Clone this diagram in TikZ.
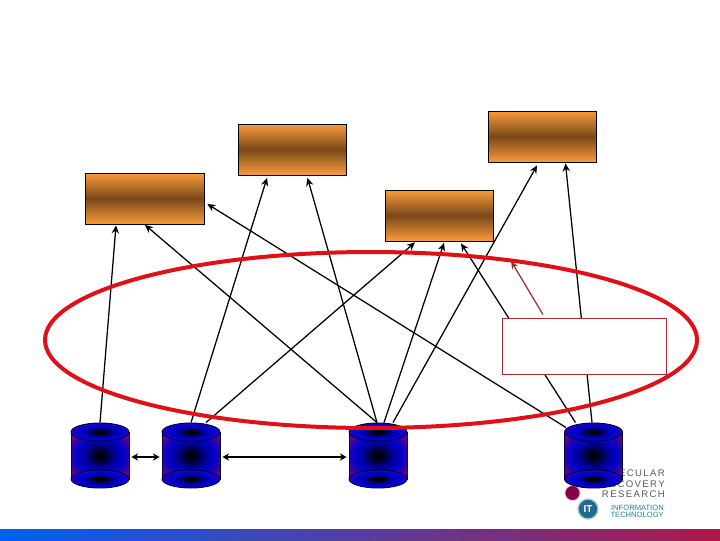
\documentclass[tikz,border=0pt]{standalone}
\usepackage{fontspec}
\setmainfont{Liberation Sans}
\newfontfamily\logofont[LetterSpace=14]{Liberation Sans}
\usetikzlibrary{calc,shapes.geometric,arrows.meta}
\pgfdeclareradialshading{dbbodyS}{\pgfpoint{0bp}{0bp}}{
  color(0bp)=(black); color(4bp)=(black!90!blue); color(12bp)=(blue!55!black);
  color(20bp)=(blue!80!black); color(25bp)=(blue!60!violet!85!black); color(33bp)=(violet!65!magenta!75!black); color(50bp)=(violet!65!magenta!75!black)}
\pgfdeclareradialshading{dbcapS}{\pgfpoint{0bp}{0bp}}{
  color(0bp)=(black); color(4bp)=(black); color(12bp)=(blue!65!black);
  color(20bp)=(blue!85!black); color(25bp)=(blue!60!violet!90!black); color(33bp)=(violet!75!magenta!85!black); color(50bp)=(violet!75!magenta!85!black)}
\definecolor{boxEdge}{RGB}{250,155,60}
\definecolor{boxMid}{RGB}{120,72,24}
\definecolor{ringRed}{RGB}{224,16,24}
\definecolor{noteRed}{RGB}{160,44,48}
\definecolor{logoBlue}{RGB}{40,125,165}
\tikzset{
  server/.style ={rectangle, draw=black, line width=0.6pt, inner sep=0pt, minimum width=81pt, minimum height=38.25pt,
                  top color=boxEdge, bottom color=boxEdge, middle color=boxMid},
  dbbody/.style ={rectangle, draw=black!80!blue, line width=0.7pt, inner sep=0pt, minimum width=43.5pt, minimum height=35.25pt, shading=dbbodyS},
  dbcap/.style  ={ellipse, draw=black!80!blue, line width=0.7pt, inner sep=0pt, minimum width=43.5pt, minimum height=13.5pt, shading=dbcapS},
  ring/.style   ={ellipse, draw=ringRed, line width=3pt, inner sep=0pt, minimum width=489pt, minimum height=132pt},
  note/.style   ={rectangle, draw=noteRed, line width=0.7pt, fill=white, inner sep=0pt, minimum width=123pt, minimum height=42pt},
  link/.style   ={-{Stealth[length=6pt,width=5.5pt]}, black, line width=0.95pt},
  peer/.style   ={{Stealth[length=5pt,width=5.5pt]}-{Stealth[length=5pt,width=5.5pt]}, black, line width=1pt},
  logotxt/.style={left, inner sep=0pt, black!65, font=\logofont\fontsize{7.2}{8}\selectfont},
  ittxt/.style  ={left, inner sep=0pt, logoBlue, font=\fontsize{5.7}{6}\selectfont},
}
\begin{document}
\begin{tikzpicture}[x=0.75pt,y=-0.75pt]
  \useasboundingbox (0,0) rectangle (720,540);
  \shade[left color=blue!60!cyan!95!black, middle color=violet!65!blue!80, right color=purple!85!black!90] (0,529) rectangle (720,540);
  % servers
  \node[server, minimum width=89.25pt] (boxA) at (144.5,198.5) {};
  \node[server] (boxB) at (292,149.5) {};
  \node[server] (boxC) at (439,215.5) {};
  \node[server] (boxD) at (542,136.5) {};
  % logo
  \node[logotxt] (logoA) at (665,473.5) {ECULAR};
  \node[logotxt] (logoB) at (665,484) {SCOVERY};
  \node[logotxt] (logoC) at (665,494.5) {RESEARCH};
  \node[ittxt] (logoD) at (664,507.5) {INFORMATION};
  \node[ittxt] (logoE) at (664,515) {TECHNOLOGY};
  \node[circle, draw=black!15, line width=0.8pt, fill=violet!70!red!80!black, minimum size=11.5pt, inner sep=0pt] (logoF) at (572.5,493) {};
  \node[circle, draw=logoBlue!40, line width=1pt, fill=logoBlue!85!black, minimum size=15pt, inner sep=0pt, text=white, font=\bfseries\fontsize{7.5}{8}\selectfont] (logoG) at (588,509) {IT};
  % databases
  \foreach \n/\x in {dbA/100,dbB/191,dbC/378,dbD/593.5}{
    \node[dbbody] (\n) at (\x,455.5) {};
    \node[dbcap] (\n-top) at (\x,432) {};
    \node[dbcap] (\n-bot) at (\x,479) {};
  }
  \draw[peer] ($(dbA.east)+(2,1.5)$) -- ($(dbB.west)+(-2,1.5)$);
  \draw[peer] ($(dbB.east)+(2,1.5)$) -- ($(dbC.west)+(-2,1.5)$);
  % links
  \draw[link] (dbA-top.north) -- ($(boxA.south)+(-28.5,1)$);
  \draw[link] (dbB-top.north) -- ($(boxB.south)+(-25,2.5)$);
  \draw[link] ($(dbB-top.north)+(15,0)$) -- ($(boxC.south)+(-24,1)$);
  \draw[link] ($(dbC-top.north)+(-1,0)$) -- ($(boxA.south)+(0.5,0.5)$);
  \draw[link] ($(dbC-top.north)+(-1,0)$) -- ($(boxB.south)+(15.5,2.5)$);
  \draw[link] ($(dbC-top.north)+(6,0)$) -- ($(boxC.south)+(5,1.5)$);
  \draw[link] ($(dbC-top.north)+(15,0)$) -- ($(boxD.south)+(-5,3)$);
  \draw[link] ($(dbD-top.north)+(-18,0)$) -- ($(boxC.south)+(22,2)$);
  \draw[link] ($(dbD-top.north)+(-27.5,5)$) -- ($(boxA.east)+(3,5.5)$);
  \draw[link] ($(dbD-top.north)+(-1.5,0)$) -- ($(boxD.south)+(23.5,1)$);
  % ring and note
  \node[ring] (grid) at (371,340) {};
  \node[note] (noteA) at (584.5,346) {};
  \draw[-{Stealth[length=6pt,width=5pt]}, noteRed, line width=0.9pt] ($(noteA.north)+(-41.5,-3)$) -- ($(grid.north)+(140,11)$);
\end{tikzpicture}
\end{document}
